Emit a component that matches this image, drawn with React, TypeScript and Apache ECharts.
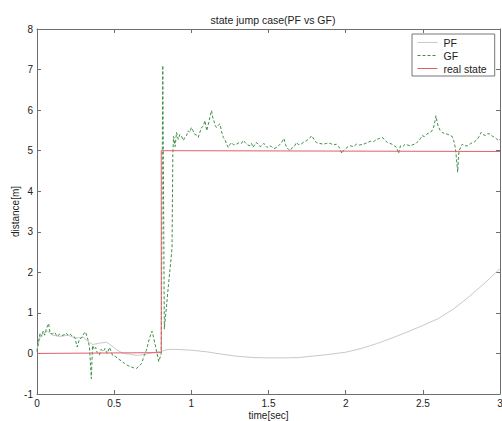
import React, { useEffect, useRef } from "react";
import * as echarts from "echarts";

const chartTitle = "state jump case(PF vs GF)";
const xName = "time[sec]";
const yName = "distance[m]";
const seriesNames = ["PF", "GF", "real state"];

// real state [time, distance]
const realData: [number, number][] = [
  [0, 0], [0.805, 0.02], [0.805, 5.0], [3.0, 4.98],
];

// PF estimate [time, distance]
const pfData: [number, number][] = [
  [0, 0.1], [0.02, 0.4], [0.04, 0.5], [0.07, 0.55], [0.1, 0.45], [0.15, 0.42],
  [0.2, 0.45], [0.25, 0.38], [0.3, 0.4], [0.33, 0.3], [0.36, 0.22], [0.4, 0.25],
  [0.45, 0.28], [0.48, 0.2], [0.52, 0.08], [0.56, 0.0], [0.6, -0.02], [0.65, -0.05],
  [0.7, -0.02], [0.75, 0.02], [0.8, 0.05], [0.85, 0.1], [0.9, 0.1], [1.0, 0.08],
  [1.1, 0.04], [1.2, -0.02], [1.3, -0.07], [1.4, -0.1], [1.5, -0.11], [1.6, -0.11],
  [1.7, -0.1], [1.8, -0.06], [1.9, -0.02], [2.0, 0.03], [2.1, 0.12], [2.2, 0.24],
  [2.3, 0.38], [2.4, 0.53], [2.5, 0.69], [2.6, 0.86], [2.7, 1.1], [2.8, 1.4],
  [2.9, 1.73], [3.0, 2.09],
];

// GF estimate [time, distance]
const gfData: [number, number][] = [
  [0.0, 0.05], [0.01, 0.3], [0.02, 0.5], [0.03, 0.42], [0.04, 0.55], [0.05, 0.45],
  [0.06, 0.6], [0.075, 0.74], [0.085, 0.5], [0.1, 0.48], [0.115, 0.52], [0.13, 0.42],
  [0.145, 0.47], [0.16, 0.44], [0.175, 0.46], [0.19, 0.5], [0.2, 0.45], [0.215, 0.48],
  [0.23, 0.42], [0.245, 0.4], [0.26, 0.16], [0.275, 0.35], [0.29, 0.39], [0.305, 0.5],
  [0.315, 0.53], [0.33, 0.34], [0.34, 0.15], [0.352, -0.62], [0.36, 0.2], [0.37, 0.1],
  [0.38, 0.15], [0.39, 0.02], [0.405, -0.04], [0.415, 0.1], [0.43, 0.05], [0.44, 0.12],
  [0.455, 0.0], [0.47, 0.15], [0.48, 0.05], [0.49, -0.05], [0.51, -0.08], [0.525, -0.13],
  [0.545, -0.18], [0.568, -0.25], [0.59, -0.3], [0.61, -0.33], [0.63, -0.36], [0.644, -0.37],
  [0.66, -0.32], [0.677, -0.25], [0.695, -0.05], [0.709, 0.08], [0.72, 0.25], [0.73, 0.39],
  [0.745, 0.55], [0.755, 0.4], [0.763, 0.26], [0.775, 0.05], [0.789, -0.2], [0.805, 0.0],
  [0.815, 7.1], [0.825, 0.6], [0.84, 1.2], [0.852, 1.7], [0.865, 2.2], [0.875, 2.6],
  [0.88, 4.9], [0.885, 5.35], [0.895, 5.1], [0.904, 5.45], [0.915, 5.28], [0.925, 5.4],
  [0.936, 5.36], [0.948, 5.25], [0.958, 5.33], [0.97, 5.38], [0.98, 5.49], [0.99, 5.45],
  [1.0, 5.57], [1.01, 5.5], [1.02, 5.41], [1.035, 5.38], [1.045, 5.33], [1.055, 5.45],
  [1.066, 5.57], [1.077, 5.6], [1.088, 5.74], [1.1, 5.49], [1.11, 5.65], [1.12, 5.82],
  [1.131, 5.99], [1.14, 5.8], [1.146, 5.74], [1.155, 5.62], [1.163, 5.57], [1.175, 5.63],
  [1.185, 5.66], [1.195, 5.48], [1.207, 5.33], [1.22, 5.25], [1.23, 5.15], [1.239, 5.08],
  [1.25, 5.15], [1.26, 5.2], [1.275, 5.14], [1.293, 5.16], [1.31, 5.2], [1.325, 5.18],
  [1.336, 5.25], [1.35, 5.2], [1.365, 5.14], [1.38, 5.12], [1.39, 5.18], [1.4, 5.08],
  [1.41, 5.15], [1.42, 5.2], [1.435, 5.16], [1.445, 5.1], [1.456, 5.12], [1.47, 5.18],
  [1.48, 5.12], [1.49, 5.08], [1.505, 5.12], [1.52, 5.1], [1.535, 5.05], [1.553, 5.08],
  [1.565, 5.12], [1.575, 5.16], [1.585, 5.2], [1.6, 5.3], [1.61, 5.15], [1.618, 5.08],
  [1.63, 5.03], [1.64, 5.0], [1.655, 5.08], [1.67, 5.12], [1.68, 5.2], [1.695, 5.15],
  [1.71, 5.16], [1.725, 5.2], [1.748, 5.25], [1.765, 5.3], [1.78, 5.37], [1.795, 5.28],
  [1.81, 5.2], [1.83, 5.18], [1.856, 5.16], [1.875, 5.18], [1.9, 5.18], [1.92, 5.14],
  [1.94, 5.16], [1.955, 5.1], [1.964, 5.04], [1.975, 4.93], [1.985, 5.0], [1.997, 5.04],
  [2.015, 5.1], [2.03, 5.12], [2.05, 5.1], [2.07, 5.16], [2.09, 5.14], [2.116, 5.16],
  [2.14, 5.2], [2.16, 5.23], [2.18, 5.22], [2.2, 5.28], [2.22, 5.3], [2.235, 5.33],
  [2.25, 5.28], [2.27, 5.2], [2.285, 5.18], [2.3, 5.16], [2.315, 5.12], [2.33, 5.08],
  [2.343, 4.93], [2.355, 5.12], [2.37, 5.1], [2.386, 5.16], [2.4, 5.14], [2.42, 5.12],
  [2.435, 5.15], [2.45, 5.16], [2.46, 5.2], [2.47, 5.23], [2.485, 5.3], [2.495, 5.37],
  [2.51, 5.35], [2.527, 5.41], [2.545, 5.45], [2.56, 5.49], [2.57, 5.58], [2.578, 5.72],
  [2.585, 5.86], [2.593, 5.7], [2.6, 5.6], [2.612, 5.5], [2.625, 5.45], [2.64, 5.42],
  [2.657, 5.41], [2.675, 5.38], [2.69, 5.35], [2.7, 5.25], [2.708, 5.12], [2.715, 4.93],
  [2.72, 4.7], [2.726, 4.47], [2.73, 4.8], [2.735, 5.0], [2.745, 5.08], [2.755, 5.16],
  [2.77, 5.12], [2.79, 5.12], [2.805, 5.16], [2.82, 5.2], [2.835, 5.22], [2.852, 5.28],
  [2.865, 5.35], [2.878, 5.45], [2.89, 5.4], [2.906, 5.37], [2.92, 5.42], [2.934, 5.41],
  [2.95, 5.36], [2.964, 5.33], [2.975, 5.3], [2.99, 5.25], [3.0, 5.28],
];

const xMin = 0, xMax = 3, xStep = 0.5;
const yMin = -1, yMax = 8, yStep = 1;

const FONT = "Liberation Sans, Arial, sans-serif";
const AXIS_COLOR = "#6e6e6e";

export default function App() {
  const ref = useRef<HTMLDivElement>(null);
  useEffect(() => {
    if (!ref.current) return;
    const chart = echarts.init(ref.current, undefined, { renderer: "svg" });
    const tickStyle = { show: true, inside: true, length: 4, lineStyle: { color: AXIS_COLOR } };
    const lineStyle = { lineStyle: { color: AXIS_COLOR, width: 1 } };
    const label = { color: "#222", fontSize: 10, fontFamily: FONT };
    chart.setOption({
      animation: false,
      backgroundColor: "#fff",
      title: {
        text: chartTitle,
        left: 268,
        top: 9,
        textAlign: "center",
        textStyle: { fontSize: 10.5, fontWeight: "normal", color: "#222", fontFamily: FONT },
      },
      legend: {
        data: seriesNames,
        orient: "vertical",
        left: 412,
        top: 34,
        width: 83,
        padding: [3, 8, 2, 5],
        itemWidth: 20,
        itemHeight: 10,
        itemGap: 2,
        backgroundColor: "#fff",
        borderColor: "#777",
        borderWidth: 1,
        borderRadius: 0,
        itemStyle: { opacity: 0 },
        lineStyle: { width: 1 },
        textStyle: { fontSize: 10.5, color: "#222", fontFamily: FONT, padding: [0, 0, 0, 1] },
      },
      grid: { left: 37, top: 29, right: 2, bottom: 27, outerBoundsMode: "none", containLabel: false },
      xAxis: [
        {
          type: "value", min: xMin, max: xMax, interval: xStep, position: "bottom",
          name: xName, nameLocation: "middle", nameGap: 16, nameMoveOverlap: false,
          nameTextStyle: { fontSize: 10, color: "#222", fontFamily: FONT },
          axisLine: { show: true, onZero: false, ...lineStyle },
          axisTick: tickStyle,
          axisLabel: { ...label, margin: 4 },
          splitLine: { show: false },
        },
        {
          type: "value", min: xMin, max: xMax, interval: xStep, position: "top",
          axisLine: { show: true, onZero: false, ...lineStyle },
          axisTick: tickStyle,
          axisLabel: { show: false },
          splitLine: { show: false },
        },
      ],
      yAxis: [
        {
          type: "value", min: yMin, max: yMax, interval: yStep, position: "left",
          name: yName, nameLocation: "middle", nameGap: 17, nameMoveOverlap: false,
          nameTextStyle: { fontSize: 10, color: "#222", fontFamily: FONT },
          axisLine: { show: true, onZero: false, ...lineStyle },
          axisTick: tickStyle,
          axisLabel: { ...label, margin: 4 },
          splitLine: { show: false },
        },
        {
          type: "value", min: yMin, max: yMax, interval: yStep, position: "right",
          axisLine: { show: true, onZero: false, ...lineStyle },
          axisTick: tickStyle,
          axisLabel: { show: false },
          splitLine: { show: false },
        },
      ],
      series: [
        {
          name: seriesNames[0], type: "line", data: pfData, xAxisIndex: 0, yAxisIndex: 0,
          showSymbol: false, symbol: "none", smooth: false,
          lineStyle: { color: "#c9c9c9", width: 1 }, itemStyle: { color: "#c9c9c9" },
        },
        {
          name: seriesNames[1], type: "line", data: gfData, xAxisIndex: 0, yAxisIndex: 0,
          showSymbol: false, symbol: "none",
          lineStyle: { color: "#3f8f46", width: 1, type: [3, 2] }, itemStyle: { color: "#3f8f46" },
        },
        {
          name: seriesNames[2], type: "line", data: realData, xAxisIndex: 0, yAxisIndex: 0,
          showSymbol: false, symbol: "none",
          lineStyle: { color: "#e0606a", width: 1 }, itemStyle: { color: "#e0606a" },
        },
      ],
    });
    return () => chart.dispose();
  }, []);
  return (
    <div
      ref={ref}
      style={{ position: "fixed", left: 0, top: 0, width: 502, height: 421, background: "#fff" }}
    />
  );
}
